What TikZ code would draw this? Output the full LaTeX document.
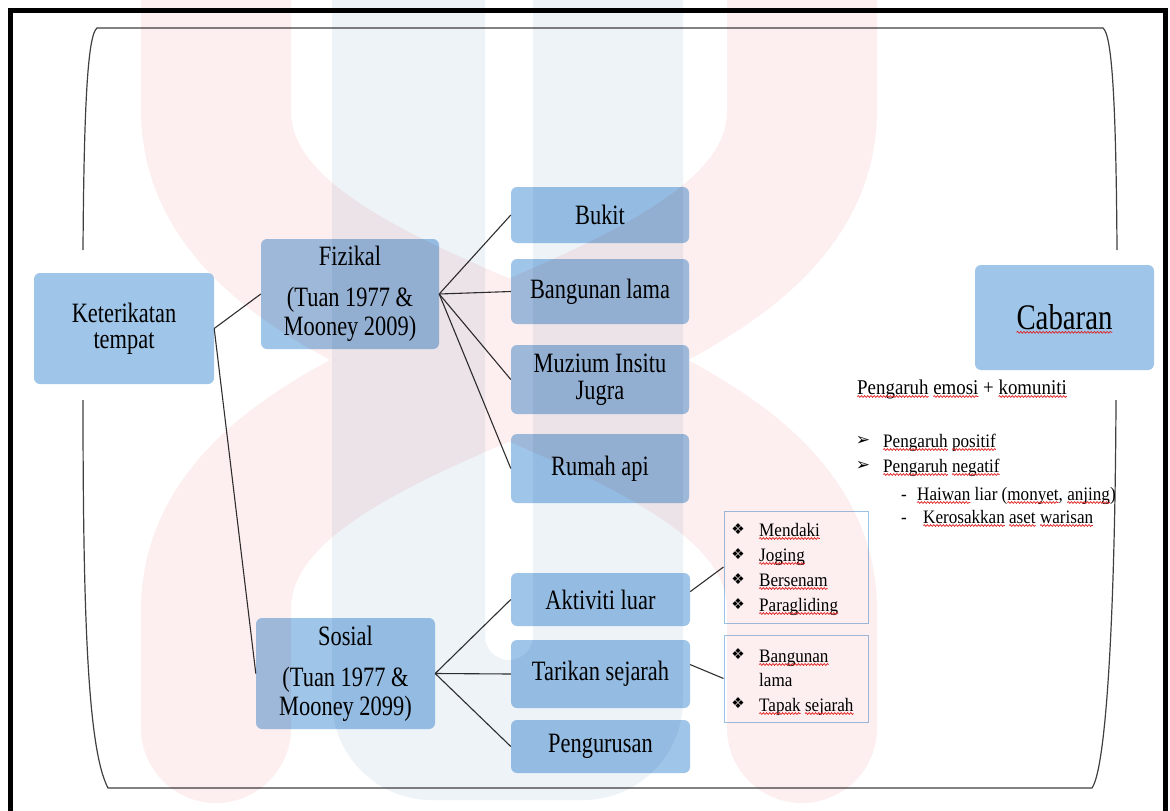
\documentclass[tikz,border=0pt]{standalone}
\usepackage{fontspec}
\setmainfont{Liberation Serif}
\newfontfamily\bigf{Liberation Serif}[FakeStretch=0.8]
\newfontfamily\smf{Liberation Serif}[FakeStretch=0.9]
\newfontfamily\symf{DejaVu Sans}
\usetikzlibrary{decorations.pathmorphing}
\definecolor{nodeblue}{HTML}{9FC5E8}
\definecolor{wavered}{HTML}{E02020}
\definecolor{wmred}{HTML}{FDEFEF}
\definecolor{wmblue}{HTML}{EEF3F8}
\definecolor{boxline}{HTML}{9DC3E6}
\definecolor{lineg}{HTML}{303030}
\tikzset{wvn/.style={shape=rectangle, draw=none, fill=none, minimum width=0pt, minimum height=0pt,
  inner sep=0pt, outer sep=0pt, sharp corners, anchor=base}}
\newcommand\wv[1]{\tikz[baseline=(wvt.base)]{\node[wvn] (wvt) {#1};%
  \draw[overlay, wavered, line width=0.7pt, sharp corners, decorate,
    decoration={snake, amplitude=0.9pt, segment length=3.2pt}]
    ([yshift=-2.5pt]wvt.base west) -- ([yshift=-2.5pt]wvt.base east);}}
\begin{document}
\begin{tikzpicture}[x=1pt,y=-1pt,
  nbox/.style={rectangle, rounded corners=6pt, fill=nodeblue, inner sep=0pt, align=center,
    font=\bigf\fontsize{28}{29}\selectfont},
  listbox/.style={rectangle, draw=boxline, line width=1pt, fill=white, inner sep=0pt},
  conn/.style={draw=lineg, line width=1.1pt},
  framel/.style={draw=black!75, line width=1.2pt},
  lt/.style={inner sep=0pt, anchor=base west, font=\smf\fontsize{19}{25}\selectfont},
  bul/.style={inner sep=0pt, font=\symf\fontsize{15}{15}\selectfont},
  arr/.style={inner sep=0pt, font=\symf\fontsize{17}{17}\selectfont}
]
\useasboundingbox (0,0) rectangle (1170,811);
\fill[white] (0,0) rectangle (1170,811);

% outer border
\draw[line width=5pt, black] (10,815) -- (10,10) -- (1165.5,10) -- (1165.5,815);

% inner frame
\draw[framel] (83,250) .. controls (84,100) and (88,35) .. (97,28) -- (1103,28)
  .. controls (1112,35) and (1116,100) .. (1117,250);
\draw[framel] (83,400) .. controls (83,620) and (88,750) .. (108,788) -- (1092,788)
  .. controls (1106,768) and (1115,620) .. (1116,400);

% main nodes
\node[nbox, minimum width=180pt, minimum height=111pt] (ket) at (124,328.5) {Keterikatan\\[-3pt]tempat};
\node[nbox, minimum width=178pt, minimum height=110pt] (fiz) at (350,294) {Fizikal\\[12pt](Tuan 1977 \&\\Mooney 2009)};
\node[nbox, minimum width=179pt, minimum height=111pt] (sos) at (345.5,673.5) {Sosial\\[12pt](Tuan 1977 \&\\Mooney 2099)};

\node[nbox, minimum width=178pt, minimum height=56pt] (bukit) at (600,215) {Bukit};
\node[nbox, minimum width=178pt, minimum height=65pt] (bang) at (600,291.5) {Bangunan lama};
\node[nbox, minimum width=178pt, minimum height=69pt] (muz) at (600,379.5) {Muzium Insitu\\[-2pt]Jugra};
\node[nbox, minimum width=178pt, minimum height=69pt] (rumah) at (600,468.5) {Rumah api};

\node[nbox, minimum width=179pt, minimum height=53pt] (akt) at (600.5,599.5) {Aktiviti luar};
\node[nbox, minimum width=179pt, minimum height=68pt] (tar) at (600.5,674) {Tarikan sejarah};
\node[nbox, minimum width=179pt, minimum height=53pt] (peng) at (600.5,746.5) {Pengurusan};

\node[nbox, minimum width=179pt, minimum height=105pt, font=\bigf\fontsize{36}{38}\selectfont] (cab) at (1064.5,317.5) {\wv{Cabaran}};

% list boxes
\node[listbox, minimum width=144pt, minimum height=112pt] (list1) at (796,567) {};
\node[listbox, minimum width=144pt, minimum height=87pt] (list2) at (796,678.5) {};

% connectors
\draw[conn] (ket.east) -- (fiz.west);
\draw[conn] (ket.east) -- (sos.west);
\draw[conn] (fiz.east) -- (bukit.west);
\draw[conn] (fiz.east) -- (bang.west);
\draw[conn] (fiz.east) -- (muz.west);
\draw[conn] (fiz.east) -- (rumah.west);
\draw[conn] (sos.east) -- (akt.west);
\draw[conn] (sos.east) -- (tar.west);
\draw[conn] (sos.east) -- (peng.west);
\draw[conn] (akt.5) -- (list1.west);
\draw[conn] (tar.6) -- (list2.west);

% list 1
\node[bul] (b11) at (738,529) {❖};
\node[lt] (m11) at (759,536) {\wv{Mendaki}};
\node[bul] (b12) at (738,554) {❖};
\node[lt] (m12) at (759,561) {\wv{Joging}};
\node[bul] (b13) at (738,579) {❖};
\node[lt] (m13) at (759,586) {\wv{Bersenam}};
\node[bul] (b14) at (738,604) {❖};
\node[lt] (m14) at (759,611) {\wv{Paragliding}};

% list 2
\node[bul] (b21) at (738,654) {❖};
\node[lt] (m21) at (759,662) {\wv{Bangunan}};
\node[lt] (m22) at (759,686) {lama};
\node[bul] (b23) at (738,703) {❖};
\node[lt] (m23) at (759,711) {\wv{Tapak} \wv{sejarah}};

% right text
\node[lt, font=\smf\fontsize{21}{24}\selectfont] (h0) at (857,394) {\wv{Pengaruh} \wv{emosi} + \wv{komuniti}};
\node[arr] (a1) at (863,441) {➢};
\node[lt] (h1) at (883,447) {\wv{Pengaruh} \wv{positif}};
\node[arr] (a2) at (863,466) {➢};
\node[lt] (h2) at (883,472) {\wv{Pengaruh} \wv{negatif}};
\node[lt] (d1) at (901,500) {-};
\node[lt] (h3) at (917,500) {\wv{Haiwan} liar (\wv{monyet}, \wv{anjing})};
\node[lt] (d2) at (901,523) {-};
\node[lt] (h4) at (923,523) {\wv{Kerosakkan} \wv{aset} \wv{warisan}};

% watermark (faint, multiplied over the drawing)
\fill[wmblue, blend mode=multiply, even odd rule]
  (332,-10) -- (332,700) arc[start angle=180, end angle=90, radius=100] -- (583,800)
  arc[start angle=90, end angle=0, radius=100] -- (683,-10) -- cycle
  (485,-10) -- (485,636) arc[start angle=180, end angle=0, radius=24] -- (533,-10) -- cycle;
\draw[wmred, blend mode=multiply, line width=150pt, line cap=round]
  (216,-120) -- (216,110) .. controls (216,360) and (802,360) .. (802,610) -- (802,728)
  (802,-120) -- (802,110) .. controls (802,360) and (216,360) .. (216,610) -- (216,728);
\end{tikzpicture}
\end{document}
